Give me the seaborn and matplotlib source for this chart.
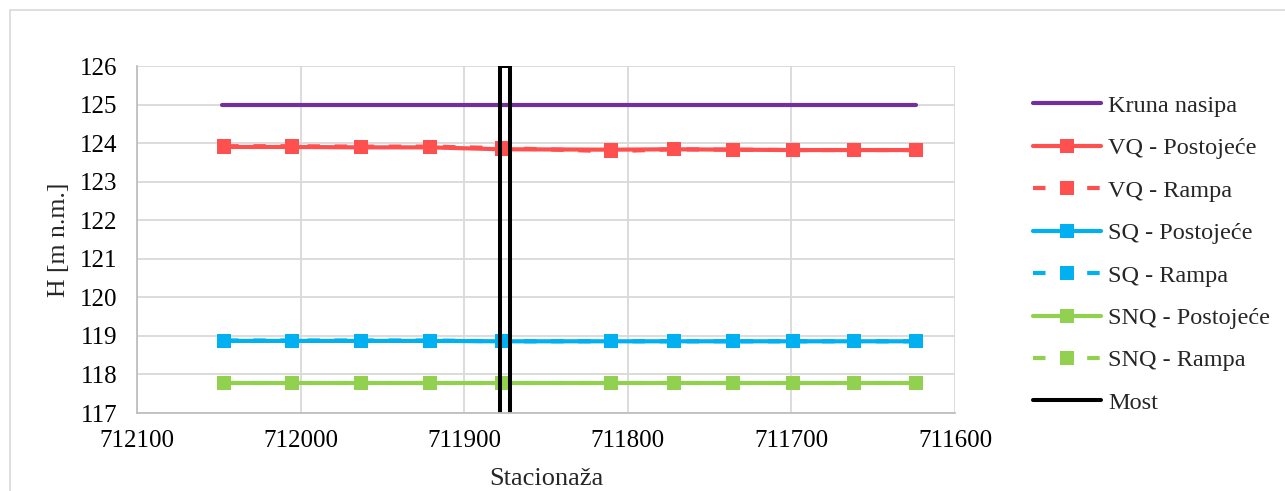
import matplotlib
matplotlib.use("Agg")
import matplotlib.pyplot as plt
import seaborn as sns
import pandas as pd
from matplotlib.patches import Rectangle

stations = [712047, 712005, 711963, 711921, 711877, 711810, 711772, 711736, 711699, 711662, 711624]
kruna_x = [712048, 711624]
kruna_h = [125.0, 125.0]
vq_post = [123.90, 123.90, 123.89, 123.89, 123.84, 123.83, 123.84, 123.83, 123.82, 123.82, 123.82]
vq_rampa = [123.92, 123.92, 123.91, 123.91, 123.87, 123.79, 123.84, 123.83, 123.82, 123.82, 123.82]
sq_post = [118.87, 118.87, 118.87, 118.87, 118.86, 118.86, 118.86, 118.86, 118.86, 118.86, 118.86]
sq_rampa = [118.88, 118.88, 118.88, 118.88, 118.86, 118.86, 118.86, 118.86, 118.86, 118.86, 118.86]
snq_post = [117.78, 117.78, 117.78, 117.78, 117.78, 117.78, 117.78, 117.78, 117.78, 117.78, 117.78]
snq_rampa = [117.78, 117.78, 117.78, 117.78, 117.78, 117.78, 117.78, 117.78, 117.78, 117.78, 117.78]
most_x = [711878, 711878, 711872, 711872]
most_h = [117, 126, 126, 117]

sns.set_theme(style="white")
plt.rcParams['font.family'] = ['Liberation Serif', 'DejaVu Serif']

fig = plt.figure(figsize=(12.85, 4.91), dpi=100)
ax = fig.add_axes([137/1285, 1-413/491, (955-137)/1285, (413-66)/491])

fig.patches.append(Rectangle((10/1285, -0.1), 1.2, 1-10/491+0.1, transform=fig.transFigure,
                             fill=False, edgecolor='#D9D9D9', linewidth=1.2, zorder=-1))

purple = '#7030A0'
red = '#FF5050'
blue = '#00B0F0'
green = '#92D050'
lw = 3.0
ms = 10
dash = (0, (3, 3.5))

sns.lineplot(x=kruna_x, y=kruna_h, ax=ax, color=purple, linewidth=lw, label='Kruna nasipa')
sns.lineplot(x=stations, y=vq_post, ax=ax, color=red, linewidth=lw, marker='s', markersize=ms,
             markeredgewidth=0, label='VQ - Postojeće')
sns.lineplot(x=stations, y=vq_rampa, ax=ax, color=red, linewidth=lw, marker='s', markersize=ms,
             markeredgewidth=0, linestyle=dash, label='VQ - Rampa')
sns.lineplot(x=stations, y=sq_post, ax=ax, color=blue, linewidth=lw, marker='s', markersize=ms,
             markeredgewidth=0, label='SQ - Postojeće')
sns.lineplot(x=stations, y=sq_rampa, ax=ax, color=blue, linewidth=lw, marker='s', markersize=ms,
             markeredgewidth=0, linestyle=dash, label='SQ - Rampa')
sns.lineplot(x=stations, y=snq_post, ax=ax, color=green, linewidth=lw, marker='s', markersize=ms,
             markeredgewidth=0, label='SNQ - Postojeće')
sns.lineplot(x=stations, y=snq_rampa, ax=ax, color=green, linewidth=lw, marker='s', markersize=ms,
             markeredgewidth=0, linestyle=dash, label='SNQ - Rampa')
sns.lineplot(x=most_x, y=most_h, ax=ax, color='black', linewidth=2.9, sort=False,
             estimator=None, label='Most')

ax.set_xlim(712100, 711600)
ax.set_ylim(117, 126)
ax.set_xticks([712100, 712000, 711900, 711800, 711700, 711600])
ax.set_yticks(range(117, 127))
ax.tick_params(axis='y', labelsize=18, length=0, pad=14, colors='black')
ax.tick_params(axis='x', labelsize=18, length=0, pad=12, colors='black')
ax.grid(True, color='#D9D9D9', linewidth=1.3)
for s in ['top', 'right']:
    ax.spines[s].set_visible(False)
for s in ['left', 'bottom']:
    ax.spines[s].set_color('#BFBFBF')
    ax.spines[s].set_linewidth(1.3)

ax.set_xlabel('Stacionaža', fontsize=19, labelpad=12)
ax.set_ylabel('H [m n.m.]', fontsize=18.5, labelpad=7)

ax.legend(loc='upper left', bbox_to_anchor=(1011/1285, 1-73/491), bbox_transform=fig.transFigure,
          frameon=False, fontsize=17.5, handlelength=2.8, handletextpad=0.3, labelspacing=0.84)

fig.savefig('out.png', dpi=100)
